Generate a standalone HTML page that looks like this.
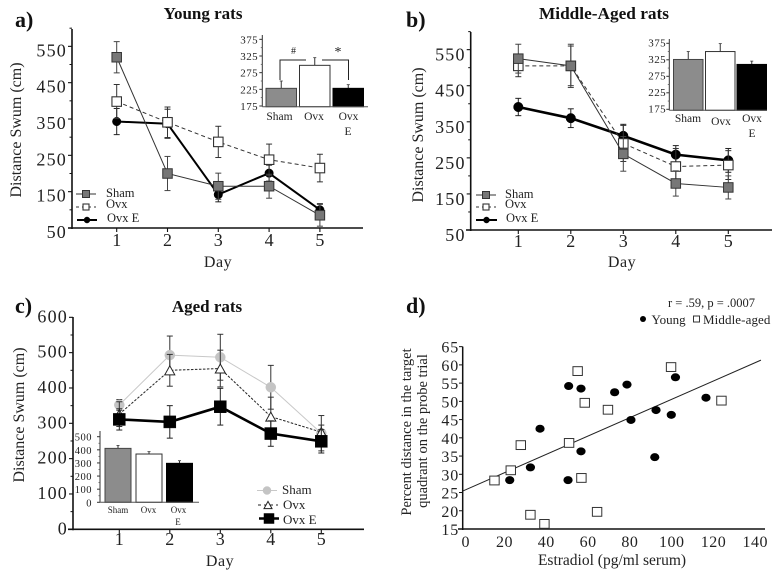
<!DOCTYPE html>
<html lang="en">
<head>
<meta charset="utf-8">
<title>Distance swum by age group</title>
<style>
html,body{margin:0;padding:0;background:#fff;width:781px;height:576px;overflow:hidden}
svg{display:block;filter:blur(.35px)}
text{font-family:"Liberation Serif",serif;fill:#222}
.b{font-weight:bold;fill:#111}
</style>
</head>
<body>
<svg id="fig" xmlns="http://www.w3.org/2000/svg" width="781" height="576" viewBox="0 0 781 576">
<rect width="781" height="576" fill="#fff"/>

<g>
<text class="b" x="15" y="27" font-size="22">a)</text>
<text class="b" x="203" y="19" font-size="17" text-anchor="middle">Young rats</text>
<text transform="translate(21,130) rotate(-90)" font-size="16" text-anchor="middle">Distance Swum (cm)</text>
<text x="218" y="267" font-size="16" text-anchor="middle" letter-spacing=".5">Day</text>
<text x="106" y="197" font-size="12.5">Sham</text>
<text x="106" y="208" font-size="12.5">Ovx</text>
<text x="107" y="222" font-size="12.5">Ovx E</text>
<text x="293.5" y="54" font-size="10" text-anchor="middle" fill="#555">#</text>
<text x="338" y="56" font-size="14" text-anchor="middle">*</text>
<text x="348" y="135" font-size="11.5" text-anchor="middle">E</text>
</g>

<g>
<text class="b" x="406" y="27" font-size="22">b)</text>
<text class="b" x="604" y="19" font-size="17.3" text-anchor="middle">Middle-Aged rats</text>
<text transform="translate(423,135) rotate(-90)" font-size="16" text-anchor="middle">Distance Swum (cm)</text>
<text x="622" y="267" font-size="16" text-anchor="middle" letter-spacing=".5">Day</text>
<text x="505" y="198" font-size="12.5">Sham</text>
<text x="505" y="208" font-size="12.5">Ovx</text>
<text x="506" y="222" font-size="12.5">Ovx E</text>
<text x="752" y="137" font-size="11.5" text-anchor="middle">E</text>
</g>

<g>
<text class="b" x="15" y="313" font-size="22">c)</text>
<text class="b" x="207" y="312" font-size="17" text-anchor="middle">Aged rats</text>
<text transform="translate(24,415) rotate(-90)" font-size="16" text-anchor="middle">Distance Swum (cm)</text>
<text x="220" y="566" font-size="16" text-anchor="middle" letter-spacing=".5">Day</text>
<text x="282" y="494" font-size="13">Sham</text>
<text x="283" y="509" font-size="13">Ovx</text>
<text x="283" y="524" font-size="13">Ovx E</text>
<text x="178" y="525" font-size="9" text-anchor="middle">E</text>
</g>

<g>
<text class="b" x="406" y="313" font-size="22">d)</text>
<text x="668" y="307" font-size="12.5">r = .59, p = .0007</text>
<circle cx="643" cy="319" r="3" fill="#000"/>
<text x="651.5" y="324" font-size="13">Young</text>
<rect x="693.5" y="316" width="6" height="6" fill="#fff" stroke="#333"/>
<text x="703" y="324" font-size="13" letter-spacing=".1">Middle-aged</text>
<text transform="translate(411,432) rotate(-90)" font-size="14.5" text-anchor="middle">Percent distance in the  target</text>
<text transform="translate(427,431) rotate(-90)" font-size="14.5" text-anchor="middle">quadrant on the probe trial</text>
<text x="612" y="565" font-size="15.5" text-anchor="middle">Estradiol (pg/ml serum)</text>
</g>
</svg>

<script>
const days = [1, 2, 3, 4, 5];

const youngSham = [520, 200, 165, 165, 85];
const youngShamErr = [43, 47, 36, 33, 30];
const youngOvx = [398, 341, 287, 238, 215];
const youngOvxErr = [47, 42, 43, 43, 38];
const youngOvxE = [343, 337, 142, 201, 100];
const youngOvxEErr = [36, 40, 20, 22, 17];
const youngBars = [228, 297, 228];
const youngBarErr = [22, 23, 11];
const youngBarTicks = [175, 225, 275, 325, 375];

const middleSham = [525, 505, 261, 179, 168];
const middleShamErr = [40, 60, 48, 35, 32];
const middleOvx = [505, 505, 290, 226, 230];
const middleOvxErr = [30, 55, 50, 50, 40];
const middleOvxE = [391, 360, 311, 259, 243];
const middleOvxEErr = [24, 26, 32, 25, 33];
const middleBars = [326, 350, 311];
const middleBarErr = [24, 24, 10];
const middleBarTicks = [175, 225, 275, 325, 375];

const agedSham = [352, 493, 487, 402, 272];
const agedShamErr = [15, 54, 65, 62, 50];
const agedOvx = [326, 450, 455, 319, 275];
const agedOvxErr = [35, 45, 52, 55, 20];
const agedOvxE = [311, 304, 347, 271, 249];
const agedOvxEErr = [30, 46, 52, 36, 33];
const agedBars = [411, 368, 297];
const agedBarErr = [22, 18, 20];
const agedBarTicks = [0, 100, 200, 300, 400, 500];

const groupLabels = ['Sham', 'Ovx', 'Ovx'];
const ticksAB = [50, 150, 250, 350, 450, 550];
const ticksC = [0, 100, 200, 300, 400, 500, 600];

const youngEstradiol = [22.5, 32.4, 37, 50.4, 50.7, 56.6, 56.6, 72.7, 78.6, 80.5, 91.9, 92.5, 99.8, 101.8, 116.4];
const youngPercent = [28.4, 31.9, 42.5, 28.4, 54.2, 36.3, 53.5, 52.5, 54.6, 44.9, 34.7, 47.6, 46.3, 56.6, 51];
const middleEstradiol = [15.2, 23, 27.8, 32.4, 39.1, 50.9, 55, 56.8, 58.4, 64.3, 69.5, 99.7, 123.8];
const middlePercent = [28.3, 31.1, 38, 18.9, 16.4, 38.6, 58.3, 29, 49.6, 19.7, 47.7, 59.4, 50.2];
const trendEstradiol = [0, 142.7];
const trendPercent = [25.4, 61.3];
const estradiolTicks = [0, 20, 40, 60, 80, 100, 120, 140];
const percentTicks = [15, 20, 25, 30, 35, 40, 45, 50, 55, 60, 65];

const NS = 'http://www.w3.org/2000/svg';
const fig = document.getElementById('fig');

function mk(tag, attrs, parent, name, txt) {
  const el = document.createElementNS(NS, tag);
  for (const k in attrs) el.setAttribute(k, attrs[k]);
  
  
  if (txt !== undefined) el.textContent = txt;
  parent.appendChild(el);
  return el;
}
function line(p, x1, y1, x2, y2, stroke, w, name, dash) {
  const a = {x1: x1, y1: y1, x2: x2, y2: y2, stroke: stroke, 'stroke-width': w};
  if (dash) a['stroke-dasharray'] = dash;
  return mk('line', a, p, name);
}
function marker(p, kind, x, y, s, name) {
  if (kind === 'square') {
    return mk('rect', {x: x - s.size / 2, y: y - s.size / 2, width: s.size, height: s.size, fill: s.fill, stroke: s.edge, 'stroke-width': s.edgeW}, p, name);
  }
  if (kind === 'circle') {
    return mk('circle', {cx: x, cy: y, r: s.size / 2, fill: s.fill, stroke: s.edge, 'stroke-width': s.edgeW}, p, name);
  }
  const h = s.size * 0.9, w = s.size / 2;
  return mk('polygon', {points: (x - w) + ',' + (y + h / 2) + ' ' + (x + w) + ',' + (y + h / 2) + ' ' + x + ',' + (y - h / 2), fill: s.fill, stroke: s.edge, 'stroke-width': s.edgeW}, p, name);
}

function linePanel(c) {
  const g = mk('g', {}, fig, c.id);
  const X = d => c.x1 + (d - 1) * c.dx;
  const Y = v => c.y0 - (v - c.v0) * c.k;
  // axes
  line(g, c.axisX, c.axisTop, c.axisX, c.y0 + 1, '#111', 1.6, c.id + '-y-axis');
  line(g, c.xStart, c.y0, c.xEnd, c.y0, '#111', 1.6, c.id + '-x-axis');
  c.ticks.forEach(function (v, i) {
    line(g, c.axisX - 4, Y(v), c.axisX, Y(v), '#111', 1.1, c.id + '-y-tick');
    mk('text', {x: c.axisX + c.labelDx, y: Y(v) + c.labelDy, 'font-size': 18, 'text-anchor': 'end', 'letter-spacing': 1.2}, g, c.id + '-y-tick-label', String(v));
    if (i < c.ticks.length - 1 || c.minorTop) {
      const m = v + (c.ticks[1] - c.ticks[0]) / 2;
      line(g, c.axisX - 2.5, Y(m), c.axisX, Y(m), '#111', 1, c.id + '-y-minor-tick');
    }
  });
  days.forEach(function (d) {
    line(g, X(d), c.y0, X(d), c.y0 + 4, '#111', 1.1, c.id + '-x-tick');
    mk('text', {x: X(d), y: c.dayY, 'font-size': 18, 'text-anchor': 'middle'}, g, c.id + '-x-tick-label', String(d));
  });
  // series
  c.series.forEach(function (s) {
    const sg = mk('g', {}, g, c.id + '-series-' + s.name);
    const pts = days.map((d, i) => X(d) + ',' + Y(s.values[i])).join(' ');
    const la = {points: pts, fill: 'none', stroke: s.line, 'stroke-width': s.w};
    if (s.dash) la['stroke-dasharray'] = s.dash;
    mk('polyline', la, sg, c.id + '-line-' + s.name);
    days.forEach(function (d, i) {
      const x = X(d) + (s.nudge || 0), t = Y(s.values[i] + s.err[i]), b = Y(s.values[i] - s.err[i]);
      line(sg, x, t, x, b, s.errColor, 1, c.id + '-error-bar-' + s.name);
      line(sg, x - 3, t, x + 3, t, s.errColor, 1, c.id + '-error-cap-' + s.name);
      line(sg, x - 3, b, x + 3, b, s.errColor, 1, c.id + '-error-cap-' + s.name);
    });
    days.forEach(function (d, i) {
      marker(sg, s.kind, X(d), Y(s.values[i]), s, c.id + '-point-' + s.name);
    });
  });
  // legend
  c.legend.forEach(function (l) {
    const lg = mk('g', {}, g, c.id + '-legend-key-' + l.s.name);
    const a = {x1: l.x1, y1: l.y, x2: l.x2, y2: l.y, stroke: l.s.line, 'stroke-width': l.s.w};
    if (l.s.dash) a['stroke-dasharray'] = '3 3';
    mk('line', a, lg, c.id + '-legend-line-' + l.s.name);
    marker(lg, l.s.kind, (l.x1 + l.x2) / 2, l.y, Object.assign({}, l.s, {size: l.size}), c.id + '-legend-marker-' + l.s.name);
  });
}

function barInset(c) {
  const g = mk('g', {}, fig, c.id);
  const Y = v => c.y0 - (v - c.v0) * c.k;
  line(g, c.axisX, c.axisTop, c.axisX, c.base, '#333', 1, c.id + '-y-axis');
  c.ticks.forEach(function (v, i) {
    line(g, c.axisX - 3, Y(v), c.axisX, Y(v), '#333', 1, c.id + '-y-tick');
    if (i < c.ticks.length - 1) {
      const m = v + (c.ticks[1] - c.ticks[0]) / 2;
      line(g, c.axisX - 1.5, Y(m), c.axisX, Y(m), '#555', 0.8, c.id + '-y-minor-tick');
    }
    mk('text', {x: c.labelX, y: Y(v) + c.labelDy, 'font-size': c.tickFont, 'text-anchor': 'end', 'letter-spacing': c.tickSpace, fill: '#333'}, g, c.id + '-y-tick-label', String(v));
  });
  const styles = [{fill: '#8c8c8c', stroke: '#444'}, {fill: '#fff', stroke: '#333'}, {fill: '#000', stroke: '#000'}];
  c.values.forEach(function (v, i) {
    const left = c.left[i], top = Y(v);
    line(g, left + c.w / 2, Y(v + c.err[i]), left + c.w / 2, top, '#333', 1, c.id + '-bar-error-' + i);
    line(g, left + c.w / 2 - 1.5, Y(v + c.err[i]), left + c.w / 2 + 1.5, Y(v + c.err[i]), '#333', 0.8, c.id + '-bar-error-cap-' + i);
    mk('rect', {x: left, y: top, width: c.w, height: c.base - top, fill: styles[i].fill, stroke: styles[i].stroke, 'stroke-width': 1}, g, c.id + '-bar-' + groupLabels[i].toLowerCase() + i);
    mk('text', {x: c.labelXs[i], y: c.labelYs[i], 'font-size': c.catFont, 'text-anchor': 'middle'}, g, c.id + '-category-label', groupLabels[i]);
  });
  line(g, c.axisX, c.base, c.baseEnd, c.base, '#555', 1, c.id + '-x-axis');
}

const shamDark = {name: 'sham', kind: 'square', fill: '#777', edge: '#333', edgeW: 1, line: '#333', w: 1, errColor: '#444'};
const ovxOpen = {name: 'ovx', kind: 'square', fill: '#fff', edge: '#333', edgeW: 1.1, line: '#333', w: 1, dash: '4 3', errColor: '#333'};
const eDot = {name: 'ovx-e', kind: 'circle', fill: '#000', edge: '#000', edgeW: 0.5, line: '#000', w: 2, errColor: '#222'};

linePanel({
  id: 'panel-a', x1: 116.7, dx: 50.8, y0: 228, v0: 50, k: 0.3633, axisX: 72, axisTop: 29, xStart: 68, xEnd: 363,
  ticks: ticksAB, minorTop: true, labelDx: -5, labelDy: 10, dayY: 246,
  series: [
    Object.assign({}, eDot, {values: youngOvxE, err: youngOvxEErr, size: 8.5}),
    Object.assign({}, ovxOpen, {values: youngOvx, err: youngOvxErr, size: 9.5}),
    Object.assign({}, shamDark, {values: youngSham, err: youngShamErr, size: 9.5})
  ],
  legend: [
    {s: shamDark, x1: 76, x2: 96, y: 194, size: 7},
    {s: ovxOpen, x1: 76, x2: 96, y: 207, size: 6},
    {s: Object.assign({}, eDot, {w: 2}), x1: 77, x2: 97, y: 220, size: 6}
  ]
});
linePanel({
  id: 'panel-b', x1: 518.3, dx: 52.5, y0: 230, v0: 50, k: 0.3607, axisX: 470.7, axisTop: 32, xStart: 466, xEnd: 772,
  ticks: ticksAB, minorTop: true, labelDx: -5, labelDy: 11, dayY: 247,
  series: [
    Object.assign({}, eDot, {values: middleOvxE, err: middleOvxEErr, size: 9.5, w: 2.6}),
    Object.assign({}, ovxOpen, {values: middleOvx, err: middleOvxErr, size: 9.5}),
    Object.assign({}, shamDark, {values: middleSham, err: middleShamErr, size: 9.5})
  ],
  legend: [
    {s: shamDark, x1: 476, x2: 496, y: 195, size: 7},
    {s: ovxOpen, x1: 476, x2: 496, y: 207, size: 6},
    {s: Object.assign({}, eDot, {w: 2}), x1: 476, x2: 497, y: 220, size: 6}
  ]
});
const agedShamStyle = {name: 'sham', kind: 'circle', fill: '#c4c4c4', edge: '#c4c4c4', edgeW: 0.5, line: '#c8c8c8', w: 1, errColor: '#333'};
const agedOvxStyle = {name: 'ovx', kind: 'triangle', fill: '#fff', edge: '#222', edgeW: 1, line: '#222', w: 1, dash: '2.5 1.5', errColor: '#333'};
const agedEStyle = {name: 'ovx-e', kind: 'square', fill: '#000', edge: '#000', edgeW: 0.5, line: '#000', w: 2.6, errColor: '#222'};
linePanel({
  id: 'panel-c', x1: 119.3, dx: 50.5, y0: 529.3, v0: 0, k: 0.3533, axisX: 73, axisTop: 317, xStart: 68, xEnd: 364,
  ticks: ticksC, minorTop: false, labelDx: -5, labelDy: 5, dayY: 545,
  series: [
    Object.assign({}, agedShamStyle, {values: agedSham, err: agedShamErr, size: 10}),
    Object.assign({}, agedOvxStyle, {values: agedOvx, err: agedOvxErr, size: 10}),
    Object.assign({}, agedEStyle, {values: agedOvxE, err: agedOvxEErr, size: 12})
  ],
  legend: [
    {s: agedShamStyle, x1: 257, x2: 277, y: 490.5, size: 8},
    {s: agedOvxStyle, x1: 258, x2: 278, y: 505, size: 8},
    {s: agedEStyle, x1: 259, x2: 279, y: 518.5, size: 10}
  ]
});

barInset({
  id: 'panel-a-inset', axisX: 262.3, axisTop: 35, base: 106.7, baseEnd: 368, y0: 106, v0: 175, k: 0.3333,
  ticks: youngBarTicks, labelX: 258, labelDy: 4, tickFont: 11, tickSpace: 0.4, catFont: 11.5,
  values: youngBars, err: youngBarErr, left: [266, 299.5, 333], w: 30.5,
  labelXs: [279.5, 314, 348.5], labelYs: [120, 120, 120]
});
barInset({
  id: 'panel-b-inset', axisX: 669.3, axisTop: 39, base: 110.3, baseEnd: 767, y0: 109.3, v0: 175, k: 0.33,
  ticks: middleBarTicks, labelX: 666, labelDy: 3, tickFont: 11, tickSpace: 0.4, catFont: 11.5,
  values: middleBars, err: middleBarErr, left: [673.5, 705.5, 737], w: 29.5,
  labelXs: [688, 721, 752], labelYs: [122, 125, 122]
});
barInset({
  id: 'panel-c-inset', axisX: 100, axisTop: 431, base: 502.3, baseEnd: 199, y0: 502.3, v0: 0, k: 0.1312,
  ticks: agedBarTicks, labelX: 92, labelDy: 4, tickFont: 10.5, tickSpace: 0.5, catFont: 9,
  values: agedBars, err: agedBarErr, left: [105, 136, 166.5], w: 26,
  labelXs: [118, 148.5, 178.5], labelYs: [513, 513, 513]
});

(function scatter() {
  const id = 'panel-d';
  const g = mk('g', {}, fig, id);
  const X = v => 462.7 + v * 2.09;
  const Y = v => 529 - (v - 15) * 3.647;
  line(g, 462.7, Y(65), 462.7, 530, '#111', 1.5, id + '-y-axis');
  line(g, 458, 529, 765, 529, '#111', 1.5, id + '-x-axis');
  percentTicks.forEach(function (v) {
    line(g, 459, Y(v), 462.7, Y(v), '#111', 1, id + '-y-tick');
    mk('text', {x: 459, y: Y(v) + 6, 'font-size': 16, 'text-anchor': 'end', 'letter-spacing': 0.8}, g, id + '-y-tick-label', String(v));
  });
  estradiolTicks.forEach(function (v) {
    mk('text', {x: X(v) + (v === 0 ? 3 : 0), y: 547, 'font-size': 16, 'text-anchor': 'middle', 'letter-spacing': 0.5}, g, id + '-x-tick-label', String(v));
  });
  line(g, X(trendEstradiol[0]), Y(trendPercent[0]), X(trendEstradiol[1]), Y(trendPercent[1]), '#222', 1, id + '-trend-line');
  youngEstradiol.forEach(function (v, i) {
    mk('ellipse', {cx: X(v), cy: Y(youngPercent[i]), rx: 4.6, ry: 4, fill: '#000'}, g, id + '-young-point');
  });
  middleEstradiol.forEach(function (v, i) {
    mk('rect', {x: X(v) - 4.7, y: Y(middlePercent[i]) - 4.4, width: 9.4, height: 8.8, fill: '#fff', stroke: '#333', 'stroke-width': 1}, g, id + '-middle-aged-point');
  });
})();

// inset significance brackets, panel a
(function brackets() {
  const id = 'panel-a-inset-bracket';
  const g = mk('g', {fill: 'none', stroke: '#222', 'stroke-width': 1}, fig, id);
  mk('polyline', {points: '280,80 280,60 306,60'}, g, id + '-left');
  mk('polyline', {points: '322,60 348.5,60 348.5,80'}, g, id + '-right');
})();
</script>
</body>
</html>
